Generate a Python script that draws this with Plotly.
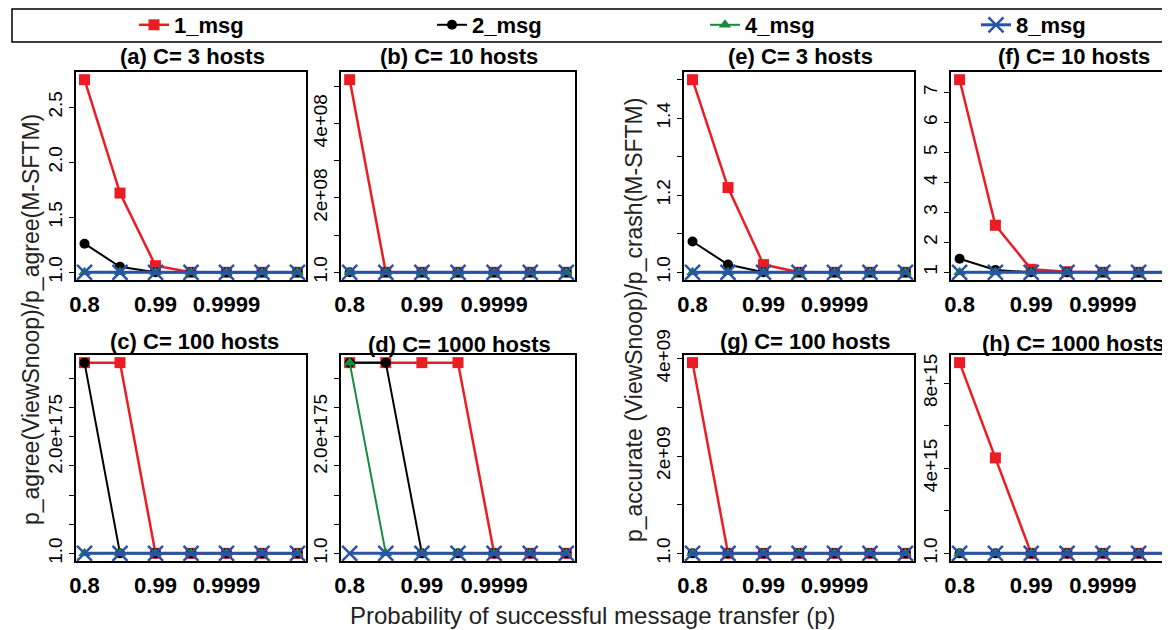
import plotly.graph_objects as go

# ---------------- data ----------------
p_labels = ["0.8", "0.9", "0.99", "0.999", "0.9999", "0.99999", "0.999999"]
x_idx = [1, 2, 3, 4, 5, 6, 7]
x_tick_idx = [1, 3, 5]
x_tick_text = ["0.8", "0.99", "0.9999"]

series_names = ["1_msg", "2_msg", "4_msg", "8_msg"]

# (a) C=3 hosts, p_agree ratio
a_1 = [2.75, 1.72, 1.06, 1.0, 1.0, 1.0, 1.0]
a_2 = [1.26, 1.05, 1.0, 1.0, 1.0, 1.0, 1.0]
a_4 = [1.0, 1.0, 1.0, 1.0, 1.0, 1.0, 1.0]
a_8 = [1.0, 1.0, 1.0, 1.0, 1.0, 1.0, 1.0]
# (b) C=10 hosts
b_1 = [5.18e8, 1.0, 1.0, 1.0, 1.0, 1.0, 1.0]
b_2 = [1.0, 1.0, 1.0, 1.0, 1.0, 1.0, 1.0]
b_4 = [1.0, 1.0, 1.0, 1.0, 1.0, 1.0, 1.0]
b_8 = [1.0, 1.0, 1.0, 1.0, 1.0, 1.0, 1.0]
# (c) C=100 hosts
c_1 = [3.27e175, 3.27e175, 1.0, 1.0, 1.0, 1.0, 1.0]
c_2 = [3.27e175, 1.0, 1.0, 1.0, 1.0, 1.0, 1.0]
c_4 = [1.0, 1.0, 1.0, 1.0, 1.0, 1.0, 1.0]
c_8 = [1.0, 1.0, 1.0, 1.0, 1.0, 1.0, 1.0]
# (d) C=1000 hosts
d_1 = [3.27e175, 3.27e175, 3.27e175, 3.27e175, 1.0, 1.0, 1.0]
d_2 = [3.27e175, 3.27e175, 1.0, 1.0, 1.0, 1.0, 1.0]
d_4 = [3.27e175, 1.0, 1.0, 1.0, 1.0, 1.0, 1.0]
d_8 = [1.0, 1.0, 1.0, 1.0, 1.0, 1.0, 1.0]
# (e) C=3 hosts, p_accurate / p_crash ratio
e_1 = [1.50, 1.22, 1.02, 1.0, 1.0, 1.0, 1.0]
e_2 = [1.08, 1.02, 1.0, 1.0, 1.0, 1.0, 1.0]
e_4 = [1.0, 1.0, 1.0, 1.0, 1.0, 1.0, 1.0]
e_8 = [1.0, 1.0, 1.0, 1.0, 1.0, 1.0, 1.0]
# (f) C=10 hosts
f_1 = [7.43, 2.57, 1.10, 1.02, 1.0, 1.0, 1.0]
f_2 = [1.45, 1.08, 1.0, 1.0, 1.0, 1.0, 1.0]
f_4 = [1.0, 1.0, 1.0, 1.0, 1.0, 1.0, 1.0]
f_8 = [1.0, 1.0, 1.0, 1.0, 1.0, 1.0, 1.0]
# (g) C=100 hosts
g_1 = [3.92e9, 1.0, 1.0, 1.0, 1.0, 1.0, 1.0]
g_2 = [1.0, 1.0, 1.0, 1.0, 1.0, 1.0, 1.0]
g_4 = [1.0, 1.0, 1.0, 1.0, 1.0, 1.0, 1.0]
g_8 = [1.0, 1.0, 1.0, 1.0, 1.0, 1.0, 1.0]
# (h) C=1000 hosts
h_1 = [8.97e15, 4.49e15, 1.0, 1.0, 1.0, 1.0, 1.0]
h_2 = [1.0, 1.0, 1.0, 1.0, 1.0, 1.0, 1.0]
h_4 = [1.0, 1.0, 1.0, 1.0, 1.0, 1.0, 1.0]
h_8 = [1.0, 1.0, 1.0, 1.0, 1.0, 1.0, 1.0]

panel_titles = ["(a) C= 3 hosts", "(b) C= 10 hosts", "(c) C= 100 hosts", "(d) C= 1000 hosts",
                "(e) C= 3 hosts", "(f) C= 10 hosts", "(g) C= 100 hosts", "(h) C= 1000 hosts"]

ytick_a = [1.0, 1.5, 2.0, 2.5]
ytext_a = ["1.0", "1.5", "2.0", "2.5"]
ytick_b = [1, 1e8, 2e8, 3e8, 4e8, 5e8]
ytext_b = ["1.0", "", "2e+08", "", "4e+08", ""]
ytick_cd = [1, 5e174, 1e175, 1.5e175, 2e175, 2.5e175, 3e175]
ytext_cd = ["1.0", "", "", "", "2.0e+175", "", ""]
ytick_e = [1.0, 1.1, 1.2, 1.3, 1.4, 1.5]
ytext_e = ["1.0", "", "1.2", "", "1.4", ""]
ytick_f = [1, 2, 3, 4, 5, 6, 7]
ytext_f = ["1", "2", "3", "4", "5", "6", "7"]
ytick_g = [1, 1e9, 2e9, 3e9, 4e9]
ytext_g = ["1.0", "", "2e+09", "", "4e+09"]
ytick_h = [1, 2e15, 4e15, 6e15, 8e15]
ytext_h = ["1.0", "", "4e+15", "", "8e+15"]

x_title = "Probability of successful message transfer (p)"
y_title_left = "p_agree(ViewSnoop)/p_agree(M-SFTM)"
y_title_right = "p_accurate (ViewSnoop)/p_crash(M-SFTM)"

# ---------------- styling ----------------
W, H = 1170, 630
FONT = "Liberation Sans, Arial, sans-serif"
colors = ["#EC1C24", "#000000", "#1A8A3C", "#2A52A6"]
symbols = ["square", "circle", "triangle-up", "x-thin"]
msizes = [11, 10, 11, 15]
lwidths = [2.5, 2.0, 2.0, 3.0]

def fx(px):
    return px / W

def fy(px):
    return 1 - px / H

panel_series = [
    (a_1, a_2, a_4, a_8), (b_1, b_2, b_4, b_8), (c_1, c_2, c_4, c_8), (d_1, d_2, d_4, d_8),
    (e_1, e_2, e_4, e_8), (f_1, f_2, f_4, f_8), (g_1, g_2, g_4, g_8), (h_1, h_2, h_4, h_8),
]
panel_yticks = [(ytick_a, ytext_a), (ytick_b, ytext_b), (ytick_cd, ytext_cd), (ytick_cd, ytext_cd),
                (ytick_e, ytext_e), (ytick_f, ytext_f), (ytick_g, ytext_g), (ytick_h, ytext_h)]
# pixel boxes (left, right, top, bottom)
boxes = [(68, 298, 64, 272), (333, 567, 64, 272), (68, 298, 347, 553), (333, 567, 347, 553),
         (676, 906, 64, 272), (943, 1170, 64, 272), (676, 906, 347, 553), (943, 1170, 347, 553)]
title_pos = [(184, 49), (451, 49), (187, 333), (451, 336),
             (792, 49), (1066, 49), (797, 333), (1065, 335)]

fig = go.Figure()
legend_ids = ["legend", "legend2", "legend3", "legend4"]

for i, series in enumerate(panel_series):
    k = i + 1
    xa = "x" if k == 1 else f"x{k}"
    ya = "y" if k == 1 else f"y{k}"
    for j, ys in enumerate(series):
        fig.add_trace(go.Scatter(
            x=x_idx, y=ys, xaxis=xa, yaxis=ya, mode="lines+markers",
            name=series_names[j], legend=legend_ids[j], showlegend=(k == 1),
            line=dict(color=colors[j], width=lwidths[j]),
            marker=dict(symbol=symbols[j], size=msizes[j], color=colors[j],
                        line=dict(color=colors[j], width=2.5 if j == 3 else 0)),
            hovertext=[p for p in p_labels],
        ))

    allv = [v for s in series for v in s]
    lo, hi = min(allv), max(allv)
    pad = 0.04 * (hi - lo)
    l, r, t, b = boxes[i]
    xend = 7.24
    if r >= 1170:
        xend = 0.76 + (r - l) / ((1175 - l) / 6.48)
    right_full = r < 1170
    xkey = "xaxis" if k == 1 else f"xaxis{k}"
    ykey = "yaxis" if k == 1 else f"yaxis{k}"
    fig.layout[xkey] = dict(
        domain=[fx(l), fx(r)], anchor=ya, range=[0.76, xend], automargin=False,
        tickvals=x_tick_idx, ticktext=x_tick_text, ticks="",
        tickfont=dict(family=FONT, size=22, color="black", weight="bold"),
        showline=True, linecolor="black", linewidth=1.5, mirror=True,
        showgrid=False, zeroline=False, ticklabelstandoff=4,
    )
    tv, tt = panel_yticks[i]
    fig.layout[ykey] = dict(
        domain=[fy(b), fy(t)], anchor=xa, range=[lo - pad, hi + pad], automargin=False,
        tickvals=tv, ticktext=tt, ticks="outside", ticklen=5, tickwidth=1.3, tickcolor="black",
        tickangle=-90, tickfont=dict(family=FONT, size=19, color="black"),
        showline=True, linecolor="black", linewidth=1.5, mirror=right_full,
        showgrid=False, zeroline=False,
    )
    tx, ty = title_pos[i]
    fig.add_annotation(text=panel_titles[i], x=fx(tx), y=fy(ty), xref="paper", yref="paper",
                       showarrow=False, xanchor="center", yanchor="middle",
                       font=dict(family=FONT, size=22, color="black", weight="bold"))

# axis titles
fig.add_annotation(text=x_title, x=fx(585), y=fy(607), xref="paper", yref="paper", showarrow=False,
                   xanchor="center", yanchor="middle", font=dict(family=FONT, size=24, color="#222"))
fig.add_annotation(text=y_title_left, x=fx(23), y=fy(312), xref="paper", yref="paper", showarrow=False,
                   textangle=-90, xanchor="center", yanchor="middle",
                   font=dict(family=FONT, size=23, color="#222"))
fig.add_annotation(text=y_title_right, x=fx(626), y=fy(312), xref="paper", yref="paper", showarrow=False,
                   textangle=-90, xanchor="center", yanchor="middle",
                   font=dict(family=FONT, size=23, color="#222"))

# legend frame
fig.add_shape(type="rect", xref="paper", yref="paper", x0=fx(4), x1=fx(1168), y0=fy(34), y1=fy(1),
              line=dict(color="black", width=1.5), fillcolor="rgba(0,0,0,0)")

legend_text_start = [168, 466, 739, 1010]
layout_legends = {}
for j, lid in enumerate(legend_ids):
    layout_legends[lid] = dict(
        x=fx(legend_text_start[j] - 42), y=fy(17), xanchor="left", yanchor="middle",
        orientation="h", bgcolor="rgba(0,0,0,0)", borderwidth=0,
        font=dict(family=FONT, size=22, color="black", weight="bold"),
    )

fig.update_layout(
    template="none",
    width=W, height=H, autosize=False,
    margin=dict(l=0, r=0, t=0, b=0, autoexpand=False),
    paper_bgcolor="white", plot_bgcolor="white",
    showlegend=True,
    **layout_legends,
)

fig.write_html("out.html")
